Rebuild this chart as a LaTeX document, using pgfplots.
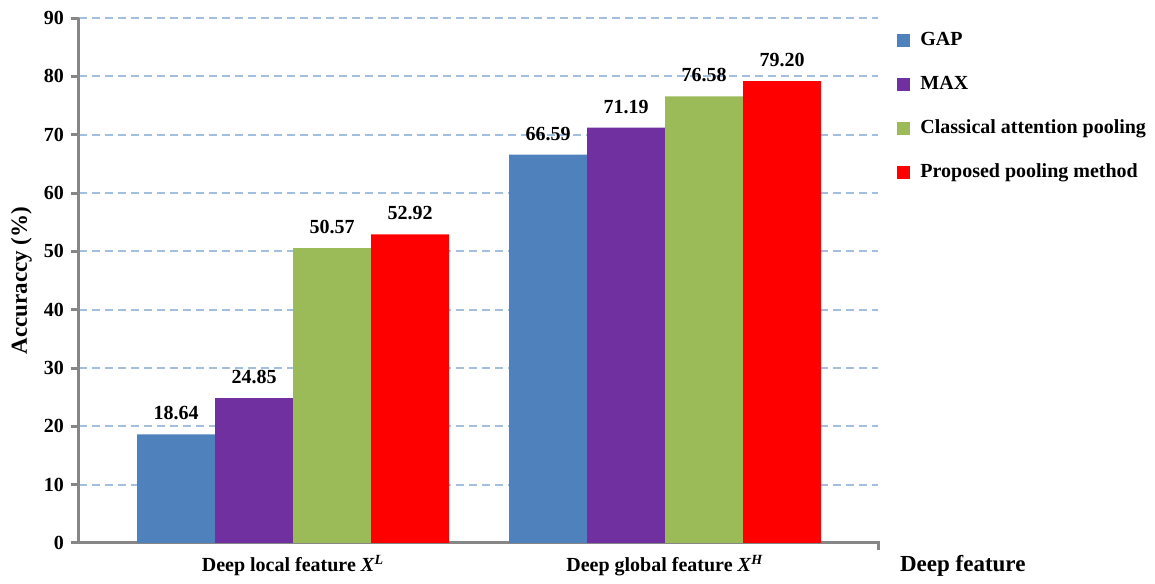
\documentclass[border=0pt]{standalone}
\usepackage{fontspec}
\setmainfont{Liberation Serif}
\usepackage{pgfplots}
\pgfplotsset{compat=1.18}

\definecolor{gapblue}{HTML}{4F81BD}
\definecolor{maxpurple}{HTML}{7030A0}
\definecolor{attgreen}{HTML}{9BBB59}
\definecolor{propred}{HTML}{FF0000}
\definecolor{axisgray}{HTML}{868686}
\definecolor{gridblue}{HTML}{A2BFE0}

\begin{document}
\begin{tikzpicture}[font=\bfseries\fontsize{10}{12}\selectfont]
\begin{axis}[
  at={(0,0)}, anchor=south west,
  scale only axis, width=399.5pt, height=262.5pt,
  xmin=-0.5753, xmax=1.5726, ymin=0, ymax=90,
  ybar=0pt, bar width=39pt,
  axis x line*=bottom, axis y line*=left,
  axis line style={draw=axisgray, line width=1.5pt, -},
  ytick={0,10,...,90},
  xtick={0,1},
  xticklabels={{Deep local feature \textit{X}\textsuperscript{\textit{L}}},
               {Deep global feature \textit{X}\textsuperscript{\textit{H}}}},
  x tick style={draw=none},
  y tick style={draw=axisgray, line width=1.5pt},
  tick align=outside, major tick length=4pt,
  xticklabel style={yshift=1.5pt},
  ymajorgrids,
  grid style={draw=gridblue, line width=1pt, dash pattern=on 4pt off 2.5pt},
  /pgf/number format/assume math mode=true,
  tick label style={font=\bfseries\fontsize{10}{12}\selectfont},
  ylabel={Accuraccy (\%)},
  ylabel style={at={(axis description cs:-0.072,0.5)}, anchor=center,
                font=\bfseries\fontsize{11.5}{13}\selectfont},
  xlabel={Deep feature},
  xlabel style={at={(axis description cs:1.0188,-0.0552)}, anchor=base west,
                font=\bfseries\fontsize{11.5}{13}\selectfont},
  point meta=explicit symbolic,
  nodes near coords,
  every node near coord/.append style={font=\bfseries\fontsize{10}{12}\selectfont,
                                       anchor=south, yshift=3.5pt},
  legend cell align=left,
  legend image code/.code={\fill[#1] (0pt,-3.25pt) rectangle (6.5pt,3.25pt);},
  legend style={draw=none, fill=none, at={(axis description cs:1.0238,0.976)},
                anchor=north west, inner sep=0pt, row sep=13pt, column sep=5pt,
                nodes={inner sep=0pt, text height=7pt, text depth=2pt},
                font=\bfseries\fontsize{10}{12}\selectfont},
  clip=false,
]
\addplot[fill=gapblue, draw=none] coordinates {(0,18.64) [18.64] (1,66.59) [66.59]};
\addplot[fill=maxpurple, draw=none] coordinates {(0,24.85) [24.85] (1,71.19) [71.19]};
\addplot[fill=attgreen, draw=none] coordinates {(0,50.57) [50.57] (1,76.58) [76.58]};
\addplot[fill=propred, draw=none] coordinates {(0,52.92) [52.92] (1,79.20) [79.20]};
\legend{GAP, MAX, Classical attention pooling, Proposed pooling method}
% closing tick at the right end of the category axis
\draw[axisgray, line width=1.5pt] ([yshift=0.75pt]rel axis cs:1,0) -- ([yshift=-3.5pt]rel axis cs:1,0);
\end{axis}
\path[use as bounding box] (-39.5pt,-17.5pt) rectangle (538pt,271.5pt);
\end{tikzpicture}
\end{document}
